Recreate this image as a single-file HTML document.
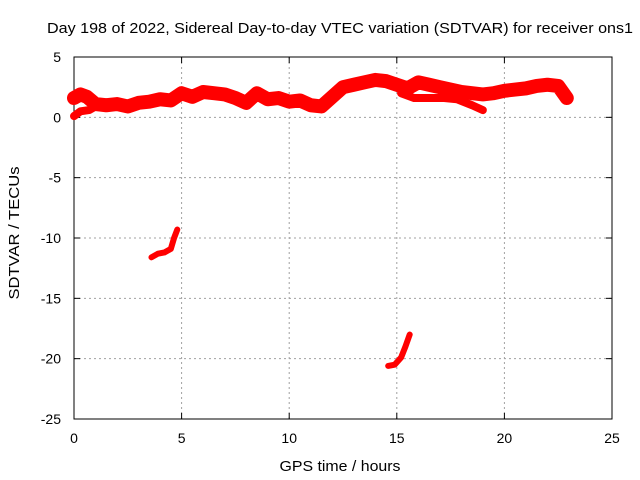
<!DOCTYPE html>
<html><head><meta charset="utf-8"><style>
body{margin:0;background:#fff}
svg{display:block;font-family:"Liberation Sans",sans-serif}
</style></head><body>
<svg id="c" width="640" height="480">
<g id="grid"></g><g id="axes"></g><g id="series"></g>
<text x="340" y="33" text-anchor="middle" font-size="15" textLength="586" lengthAdjust="spacingAndGlyphs">Day 198 of 2022, Sidereal Day-to-day VTEC variation (SDTVAR) for receiver ons1</text>
<text x="340" y="471" text-anchor="middle" font-size="15" textLength="121" lengthAdjust="spacingAndGlyphs">GPS time / hours</text>
<text transform="translate(19,233) rotate(-90)" text-anchor="middle" font-size="15" textLength="133" lengthAdjust="spacingAndGlyphs">SDTVAR / TECUs</text>
</svg>
<script>
const xTicks=[0,5,10,15,20,25];
const yTicks=[5,0,-5,-10,-15,-20,-25];
const upperHours=[0,0.3,0.6,1,1.5,2,2.5,3,3.5,4,4.5,5,5.5,6,6.5,7,7.5,8,8.5,9,9.5,10,10.5,11,11.5,12,12.5,13,13.5,14,14.5,15,15.5,16,16.5,17,17.5,18,18.5,19,19.5,20,20.5,21,21.5,22,22.5,22.9];
const upperVals=[1.6,1.9,1.7,1.1,1.0,1.1,0.9,1.2,1.3,1.5,1.4,2.0,1.7,2.1,2.0,1.9,1.6,1.2,2.0,1.5,1.6,1.3,1.4,1.0,0.9,1.7,2.5,2.7,2.9,3.1,3.0,2.7,2.4,2.9,2.7,2.5,2.3,2.1,2.0,1.9,2.0,2.2,2.3,2.4,2.6,2.7,2.6,1.6];
const lowerHours=[15.2,15.8,16.5,17.2,17.8,18.5,19.0];
const lowerVals=[2.0,1.6,1.6,1.6,1.5,1.0,0.6];
const startHours=[0,0.3,0.7,1.1];
const startVals=[0.1,0.5,0.6,1.0];
const seg1Hours=[3.6,3.9,4.2,4.5,4.65,4.8];
const seg1Vals=[-11.6,-11.3,-11.2,-10.9,-10.0,-9.3];
const seg2Hours=[14.6,14.9,15.2,15.4,15.6];
const seg2Vals=[-20.6,-20.5,-19.9,-19.0,-18.0];
const NS="http://www.w3.org/2000/svg";
const X0=74,X1=612,Y0=419,Y1=57;
function xs(h){return X0+(h-0)/(25-0)*(X1-X0);}
function ys(v){return Y0-(v+25)/(30)*(Y0-Y1);}
function mk(t,a,p){const e=document.createElementNS(NS,t);for(const k in a)e.setAttribute(k,a[k]);p.appendChild(e);return e;}
const grid=document.getElementById('grid'),axes=document.getElementById('axes'),ser=document.getElementById('series');
mk('rect',{x:X0,y:Y1,width:X1-X0,height:Y0-Y1,fill:'none',stroke:'#000','stroke-width':1},axes);
xTicks.forEach(t=>{const x=xs(t);
 if(t>0&&t<25){const g=mk('line',{x1:x,x2:x,y1:Y1,y2:Y0,stroke:'#a0a0a0','stroke-dasharray':'2,3'},grid);}
 mk('line',{x1:x,x2:x,y1:Y0,y2:Y0-6,stroke:'#000'},axes);mk('line',{x1:x,x2:x,y1:Y1,y2:Y1+6,stroke:'#000'},axes);
 const tx=mk('text',{x:x,y:Y0+24,'text-anchor':'middle','font-size':14},axes);tx.textContent=t;
 });
yTicks.forEach(t=>{const y=ys(t);
 if(t>-25&&t<5){const g=mk('line',{x1:X0,x2:X1,y1:y,y2:y,stroke:'#a0a0a0','stroke-dasharray':'2,3'},grid);}
 mk('line',{x1:X0,x2:X0+6,y1:y,y2:y,stroke:'#000'},axes);mk('line',{x1:X1,x2:X1-6,y1:y,y2:y,stroke:'#000'},axes);
 const tx=mk('text',{x:X0-13,y:y+5,'text-anchor':'end','font-size':14},axes);tx.textContent=t;
 });
function line(hs,vs,w,name){const pts=hs.map((h,i)=>xs(h)+','+ys(vs[i])).join(' ');
 const p=mk('polyline',{points:pts,fill:'none',stroke:'#ff0000','stroke-width':w,'stroke-linejoin':'round','stroke-linecap':'round'},ser);
 }
line(upperHours,upperVals,14,'series-main-band');
line(lowerHours,lowerVals,8,'series-lower-track');
line(startHours,startVals,8,'series-start-track');
line(seg1Hours,seg1Vals,6,'series-segment-1');
line(seg2Hours,seg2Vals,6,'series-segment-2');
</script>
</body></html>
